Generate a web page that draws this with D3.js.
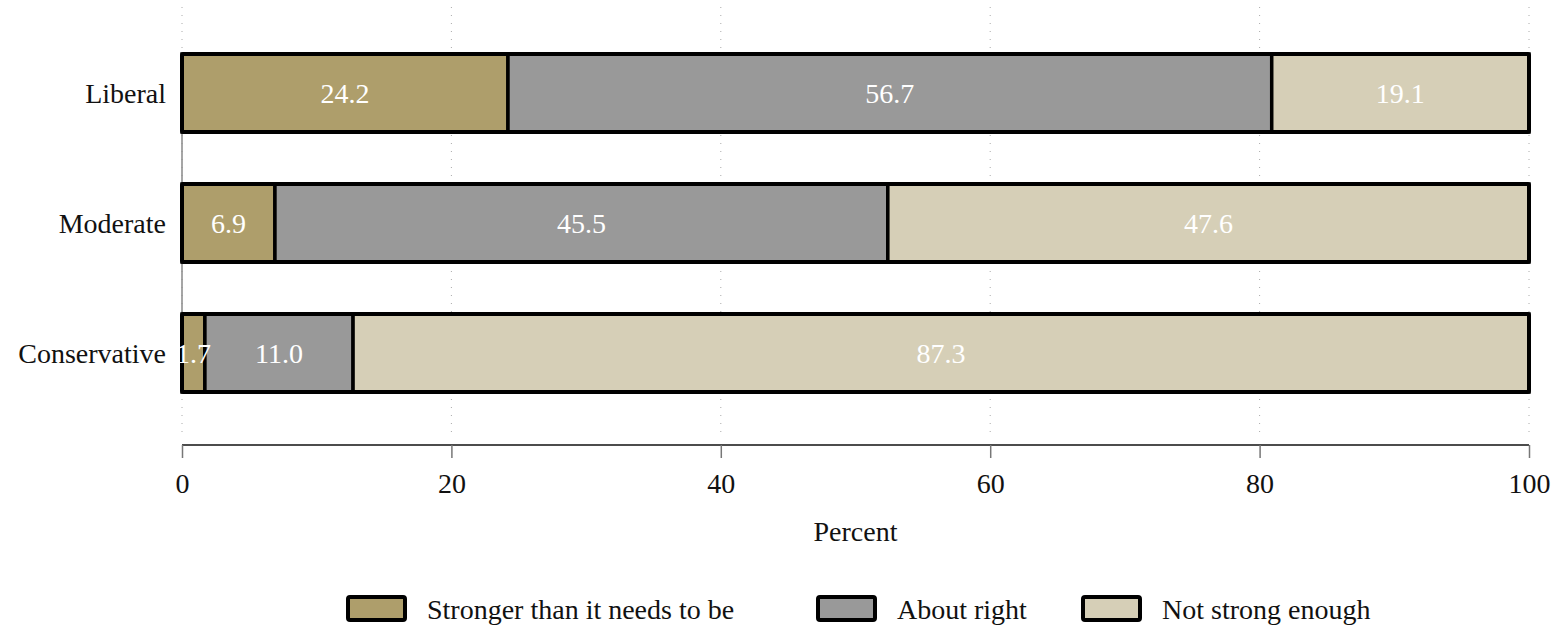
<!DOCTYPE html>
<meta charset="utf-8">
<style>
    body { margin: 0; background: #fff; }
    text { font-family: "Liberation Serif", "DejaVu Serif", serif; }
</style>
<svg width="1557" height="630"></svg>
<script src="https://d3js.org/d3.v7.min.js"></script>
<script>

    var groups = ["Liberal", "Moderate", "Conservative"];
    var seriesNames = ["Stronger than it needs to be", "About right", "Not strong enough"];
    var stronger = [24.2, 6.9, 1.7];
    var aboutRight = [56.7, 45.5, 11.0];
    var notEnough = [19.1, 47.6, 87.3];
    var xTicks = [0, 20, 40, 60, 80, 100];

    var colors = ["#ae9e6b", "#999999", "#d6cfb7"];
    var fs = "28px";

    var svg = d3.select("svg");

    var rows = groups.map(function (g, i) {
        return { group: g, s0: stronger[i], s1: aboutRight[i], s2: notEnough[i] };
    });

    var stack = d3.stack().keys(["s0", "s1", "s2"]);
    var layers = stack(rows);

    var x = d3.scaleLinear().domain([0, 100]).range([182, 1529]);
    var y = d3.scaleBand().domain(groups).range([28, 418]).paddingInner(0.4).paddingOuter(0.2);

    // dotted grid
    svg.append("g").selectAll("line")
        .data(xTicks)
        .enter().append("line")
        .attr("x1", function (d) { return x(d); })
        .attr("x2", function (d) { return x(d); })
        .attr("y1", 7).attr("y2", 438)
        .attr("stroke", "#aaa")
        .attr("stroke-width", 1)
        .attr("stroke-dasharray", "1,7");

    // y axis line (behind bars)
    svg.append("line")
        .attr("x1", x(0)).attr("x2", x(0))
        .attr("y1", y(groups[0]) + y.bandwidth() / 2)
        .attr("y2", y(groups[2]) + y.bandwidth() / 2)
        .attr("stroke", "#888").attr("stroke-width", 1.5);

    // bars
    var layer = svg.append("g").selectAll("g")
        .data(layers)
        .enter().append("g")
        .attr("fill", function (d, i) { return colors[i]; });

    layer.selectAll("rect")
        .data(function (d) { return d; })
        .enter().append("rect")
        .attr("x", function (d) { return x(d[0]); })
        .attr("width", function (d) { return x(d[1]) - x(d[0]); })
        .attr("y", function (d) { return y(d.data.group); })
        .attr("height", y.bandwidth())
        .attr("stroke", "#000")
        .attr("stroke-width", 3.5);

    // outer frame per bar
    svg.append("g").selectAll("rect")
        .data(rows)
        .enter().append("rect")
        .attr("x", x(0))
        .attr("width", x(100) - x(0))
        .attr("y", function (d) { return y(d.group); })
        .attr("height", y.bandwidth())
        .attr("fill", "none")
        .attr("stroke", "#000")
        .attr("stroke-width", 4)
        .attr("rx", 1.5);

    // value labels, drawn on top of all segments
    var labelLayer = svg.append("g").selectAll("g")
        .data(layers)
        .enter().append("g");

    labelLayer.selectAll("text")
        .data(function (d) { return d; })
        .enter().append("text")
        .attr("x", function (d) { return (x(d[0]) + x(d[1])) / 2; })
        .attr("y", function (d) { return y(d.data.group) + y.bandwidth() / 2; })
        .attr("dy", "0.35em")
        .attr("text-anchor", "middle")
        .attr("fill", "#fff")
        .style("font-size", fs)
        .text(function (d) { return (d[1] - d[0]).toFixed(1); });

    // category labels
    svg.append("g").selectAll("text")
        .data(groups)
        .enter().append("text")
        .attr("x", 166)
        .attr("y", function (d) { return y(d) + y.bandwidth() / 2; })
        .attr("dy", "0.35em")
        .attr("text-anchor", "end")
        .attr("fill", "#111")
        .style("font-size", fs)
        .text(function (d) { return d; });

    // x axis
    var xAxis = svg.append("g")
        .attr("transform", "translate(0,445)")
        .call(d3.axisBottom(x).tickValues(xTicks).tickSize(13).tickPadding(15));
    xAxis.select(".domain").attr("stroke", "#111").attr("stroke-width", 1.3)
        .attr("d", "M" + x(0) + ",0H" + x(100));
    xAxis.selectAll(".tick line").attr("stroke", "#777").attr("stroke-width", 1.5);
    xAxis.selectAll(".tick text")
        .attr("fill", "#111")
        .style("font-size", fs)
        .style("font-family", "'Liberation Serif', serif");

    svg.append("text")
        .attr("x", (x(0) + x(100)) / 2)
        .attr("y", 531)
        .attr("dy", "0.35em")
        .attr("text-anchor", "middle")
        .attr("fill", "#111")
        .style("font-size", fs)
        .text("Percent");

    // legend
    var legendX = [348, 818, 1083];
    var legend = svg.append("g").selectAll("g")
        .data(seriesNames)
        .enter().append("g")
        .attr("transform", function (d, i) { return "translate(" + legendX[i] + ",597)"; });

    legend.append("rect")
        .attr("width", 57).attr("height", 23)
        .attr("rx", 2)
        .attr("fill", function (d, i) { return colors[i]; })
        .attr("stroke", "#000")
        .attr("stroke-width", 4);

    legend.append("text")
        .attr("x", 79)
        .attr("y", 12)
        .attr("dy", "0.35em")
        .attr("fill", "#111")
        .style("font-size", fs)
        .text(function (d) { return d; });
</script>
